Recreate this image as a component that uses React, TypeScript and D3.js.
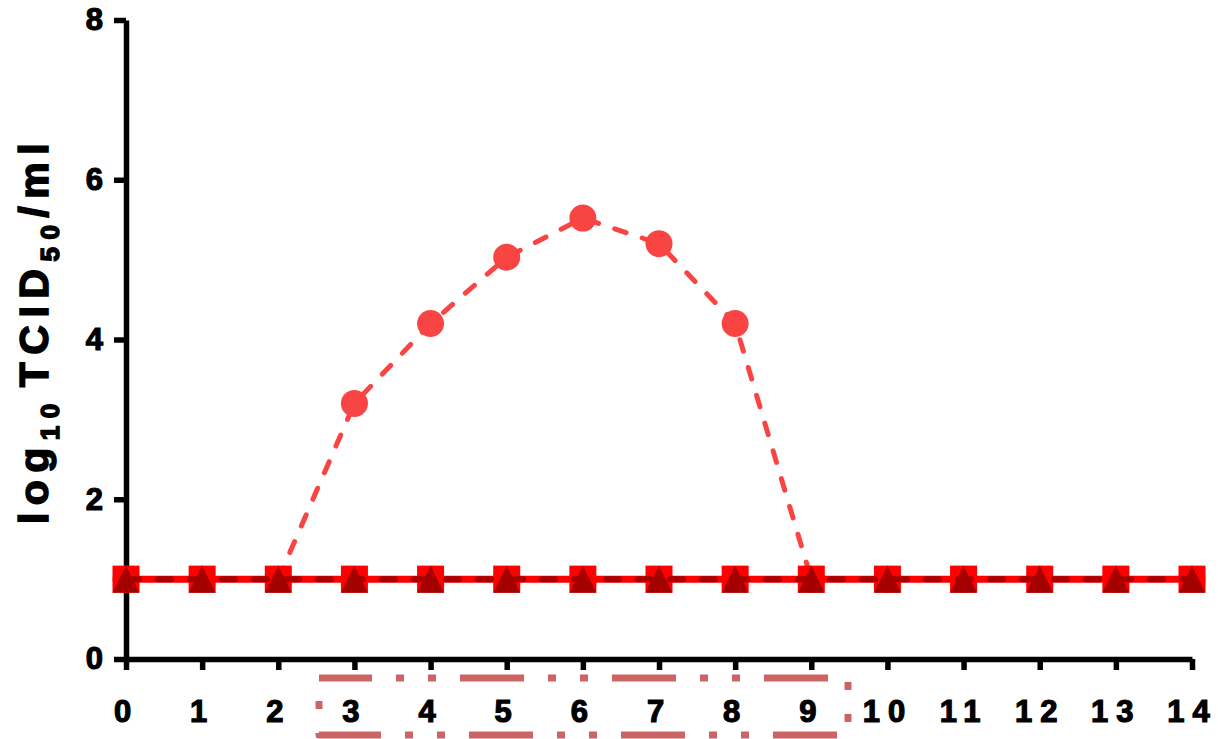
import React, { useEffect, useRef } from "react";
import * as d3 from "d3";

const days = [0, 1, 2, 3, 4, 5, 6, 7, 8, 9, 10, 11, 12, 13, 14];
const circleSeries = [1, 1, 1, 3.2, 4.2, 5.03, 5.52, 5.2, 4.2, 1, 1, 1, 1, 1, 1];
const squareSeries = [1, 1, 1, 1, 1, 1, 1, 1, 1, 1, 1, 1, 1, 1, 1];
const triangleSeries = [1, 1, 1, 1, 1, 1, 1, 1, 1, 1, 1, 1, 1, 1, 1];
const yTicks = [0, 2, 4, 6, 8];
const xTicks = days;

const W = 1218;
const H = 739;
const FONT = "'Liberation Sans', Arial, sans-serif";

export default function App() {
  const xAxisRef = useRef<SVGGElement>(null);
  const yAxisRef = useRef<SVGGElement>(null);

  const x = d3.scaleLinear().domain([0, 14]).range([126, 1192]);
  const y = d3.scaleLinear().domain([0, 8]).range([659, 20]);

  useEffect(() => {
    const xa = d3
      .axisBottom(x)
      .tickValues(xTicks)
      .tickSize(11)
      .tickSizeOuter(0)
      .tickPadding(30)
      .tickFormat((d) => String(d));
    const ya = d3
      .axisLeft(y)
      .tickValues(yTicks)
      .tickSize(12)
      .tickSizeOuter(0)
      .tickPadding(11)
      .tickFormat((d) => String(d));
    const gx = d3.select(xAxisRef.current!);
    gx.call(xa as any);
    gx.select(".domain").attr("stroke", "#000").attr("stroke-width", 5.5);
    gx.selectAll(".tick line").attr("stroke", "#000").attr("stroke-width", 5.5);
    gx.selectAll(".tick text")
      .attr("fill", "#000")
      .attr("stroke", "#000")
      .attr("stroke-width", 1.2)
      .attr("font-family", FONT)
      .attr("font-weight", "bold")
      .attr("font-size", 31)
      .attr("letter-spacing", 8);
    const gy = d3.select(yAxisRef.current!);
    gy.call(ya as any);
    gy.select(".domain").attr("stroke", "#000").attr("stroke-width", 5.5);
    gy.selectAll(".tick line").attr("stroke", "#000").attr("stroke-width", 5.5);
    gy.selectAll(".tick text")
      .attr("fill", "#000")
      .attr("stroke", "#000")
      .attr("stroke-width", 1.2)
      .attr("font-family", FONT)
      .attr("font-weight", "bold")
      .attr("font-size", 31);
  }, []);

  const line = d3
    .line<number>()
    .x((_, i) => x(days[i]))
    .y((d) => y(d));

  const riseLine = d3
    .line<number>()
    .x((_, i) => x(days[i + 2]))
    .y((d) => y(d));

  const circleColor = "#F94444";
  const squareColor = "#FF0000";
  const triColor = "#A50000";
  const s = 13.5;

  return (
    <svg
      width={W}
      height={H}
      style={{ position: "absolute", left: 0, top: 0, background: "#fff" }}
    >
      <rect x={0} y={0} width={W} height={H} fill="#fff" />
      <g ref={xAxisRef} transform={`translate(0,${y(0)})`} />
      <g ref={yAxisRef} transform={`translate(${x(0)},0)`} />

      {/* circle series */}
      <path
        d={riseLine(circleSeries.slice(2, 10)) as string}
        fill="none"
        stroke={circleColor}
        strokeWidth={5}
        strokeDasharray="12 17"
        strokeLinecap="round"
      />
      {circleSeries.map((v, i) => (
        <circle key={"c" + i} cx={x(days[i])} cy={y(v)} r={13.5} fill={circleColor} />
      ))}

      {/* square series */}
      <path d={line(squareSeries) as string} fill="none" stroke={squareColor} strokeWidth={7} />
      {squareSeries.map((v, i) => (
        <rect
          key={"s" + i}
          x={x(days[i]) - s}
          y={y(v) - s}
          width={2 * s}
          height={2 * s}
          fill={squareColor}
        />
      ))}

      {/* triangle series */}
      <path
        d={line(triangleSeries) as string}
        fill="none"
        stroke={triColor}
        strokeWidth={6}
        strokeDasharray="13 19"
        strokeLinecap="round"
      />
      {triangleSeries.map((v, i) => {
        const cx = x(days[i]);
        const cy = y(v);
        return (
          <path
            key={"t" + i}
            d={`M${cx},${cy - s}L${cx + s},${cy + s}L${cx - s},${cy + s}Z`}
            fill={triColor}
          />
        );
      })}

      {/* y axis title */}
      <text
        transform="translate(48,330) rotate(-90)"
        textAnchor="middle"
        fontFamily={FONT}
        fontWeight="bold"
        fontSize={41}
        letterSpacing={7.5}
        fill="#000"
        stroke="#000"
        strokeWidth={1.5}
      >
        log
        <tspan fontSize={26} dy={11}>10</tspan>
        <tspan dy={-11} dx={9}>TCID</tspan>
        <tspan fontSize={26} dy={11}>50</tspan>
        <tspan dy={-11}>/ml</tspan>
      </text>

      {/* dashed highlight box */}
      <path
        d="M319,678H848V735H319Z"
        fill="none"
        stroke="#CD6464"
        strokeWidth={7}
        strokeDasharray="64 24 8 24 8 24"
        strokeDashoffset={11}
        strokeLinejoin="round"
      />
    </svg>
  );
}
